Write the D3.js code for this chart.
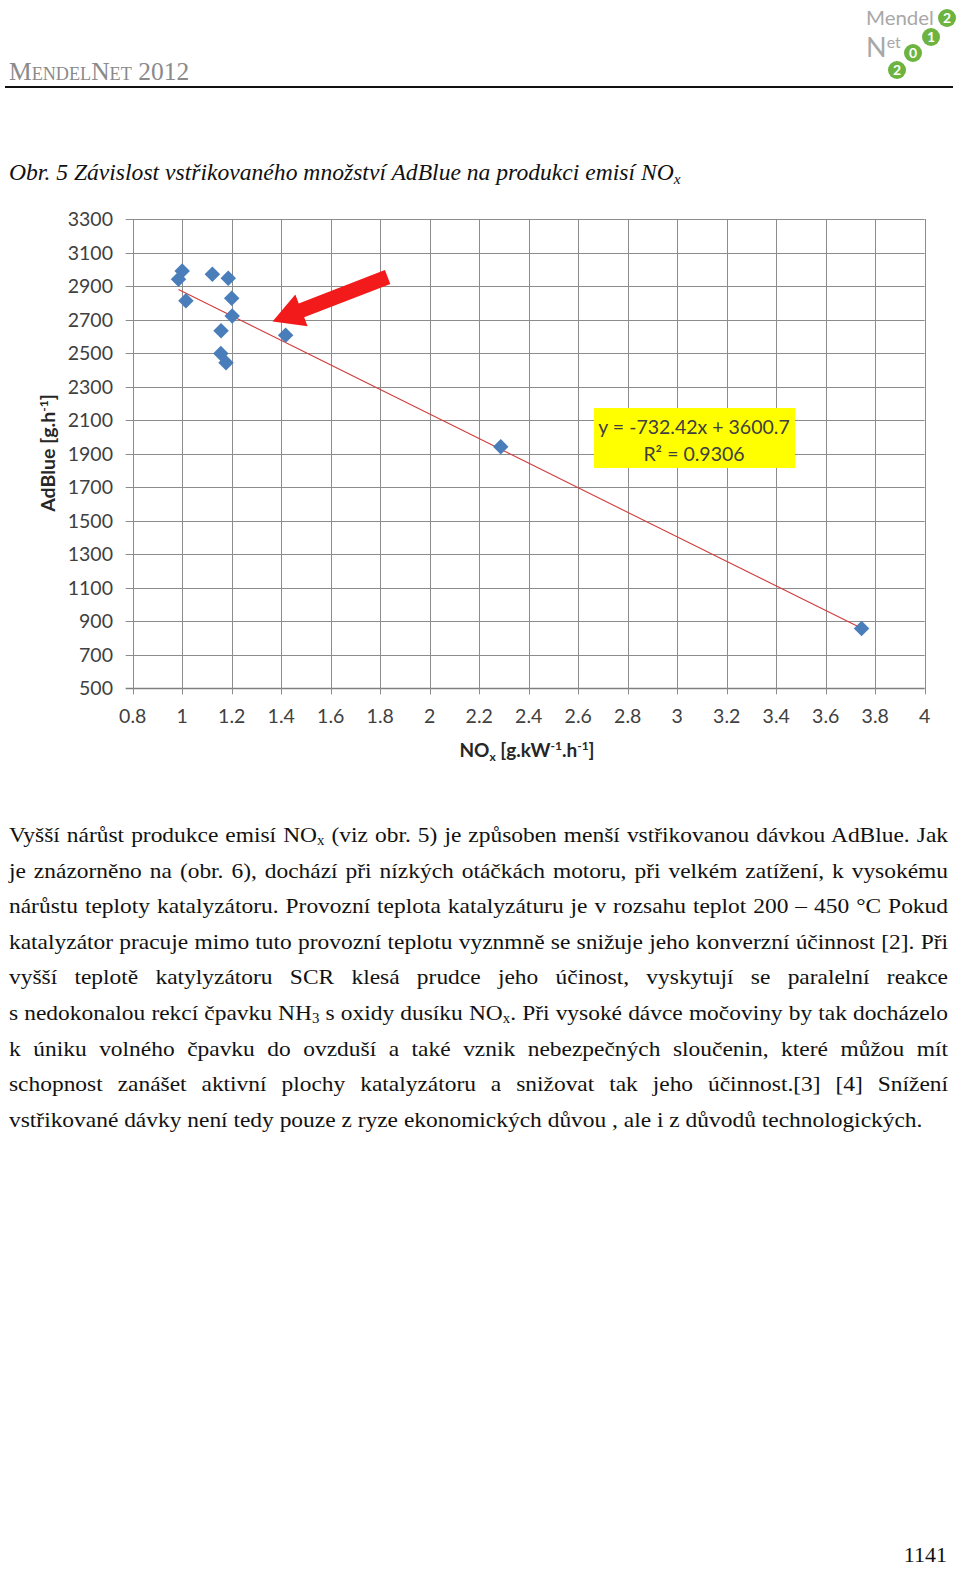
<!DOCTYPE html>
<html>
<head>
<meta charset="utf-8">
<script src="https://cdn.jsdelivr.net/npm/d3@7"></script>
<style>
  html, body { margin: 0; padding: 0; background: #fff; }
  svg { display: block; }
</style>
</head>
<body>
<div id="page"></div>
<script>
//Datos del gráfico
const noxValues = [1.00, 0.985, 1.015, 1.122, 1.186, 1.200, 1.202, 1.157, 1.156, 1.177, 1.418, 2.287, 3.745];
const adblueValues = [2990, 2940, 2812, 2970, 2946, 2827, 2721, 2633, 2498, 2442, 2607, 1941, 857];
const xTickValues = [0.8, 1, 1.2, 1.4, 1.6, 1.8, 2, 2.2, 2.4, 2.6, 2.8, 3, 3.2, 3.4, 3.6, 3.8, 4];
const xTickLabels = ['0.8', '1', '1.2', '1.4', '1.6', '1.8', '2', '2.2', '2.4', '2.6', '2.8', '3', '3.2', '3.4', '3.6', '3.8', '4'];
const yTickValues = [500, 700, 900, 1100, 1300, 1500, 1700, 1900, 2100, 2300, 2500, 2700, 2900, 3100, 3300];
const trendSlope = -732.42, trendIntercept = 3600.7;
const trendLabels = ['y = -732.42x + 3600.7', 'R² = 0.9306'];
//Flecha (en unidades de datos)
const arrowTip = [1.365, 2688], arrowTail = [1.83, 2954];

//Textos
const captionText = 'Obr. 5 Závislost vstřikovaného množství AdBlue na produkci emisí NO';
const bodyLines = [
  [['Vyšší nárůst produkce emisí NO'], ['x', 'sub'], [' (viz obr. 5) je způsoben menší vstřikovanou dávkou AdBlue. Jak']],
  [['je znázorněno na (obr. 6), dochází při nízkých otáčkách motoru, při velkém zatížení, k vysokému']],
  [['nárůstu teploty katalyzátoru. Provozní teplota katalyzáturu je v rozsahu teplot 200 – 450 °C Pokud']],
  [['katalyzátor pracuje mimo tuto provozní teplotu vyznmně se snižuje jeho konverzní účinnost [2]. Při']],
  [['vyšší teplotě katylyzátoru SCR klesá prudce jeho účinost, vyskytují se paralelní reakce']],
  [['s nedokonalou rekcí čpavku NH'], ['3', 'sub'], [' s oxidy dusíku NO'], ['x', 'sub'], ['. Při vysoké dávce močoviny by tak docházelo']],
  [['k úniku volného čpavku do ovzduší a také vznik nebezpečných sloučenin, které můžou mít']],
  [['schopnost zanášet aktivní plochy katalyzátoru a snižovat tak jeho účinnost.[3] [4] Snížení']],
  [['vstřikované dávky není tedy pouze z ryze ekonomických důvou , ale i z důvodů technologických.']]
];

const W = 960, H = 1569;
const svg = d3.select('#page').append('svg').attr('width', W).attr('height', H);
const SERIF = '"Liberation Serif", "Times New Roman", serif';
const SANS = 'Lato, "Open Sans", sans-serif';

//Ajusta el ancho de un texto escalándolo en horizontal
function fitWidth(sel, x0, width) {
  let w = sel.node().getComputedTextLength();
  sel.attr('transform', 'translate(' + x0 + ',0) scale(' + (width / w) + ',1) translate(' + (-x0) + ',0)');
  return width / w;
}

//Cabecera
let head = svg.append('text')
  .attr('x', 9).attr('y', 80)
  .attr('font-family', SERIF).attr('font-size', 25)
  .attr('fill', '#8a8a8a')
  .style('font-variant', 'small-caps')
  .text('MendelNet 2012');
fitWidth(head, 9, 181);

svg.append('line')
  .attr('x1', 5).attr('x2', 953).attr('y1', 87).attr('y2', 87)
  .attr('stroke', '#111').attr('stroke-width', 2);

//Logo
let logo = svg.append('g');
let mendel = logo.append('text').attr('x', 866).attr('y', 25)
  .attr('font-family', SANS).attr('font-size', 20).attr('fill', '#a8a8a8').text('Mendel');
fitWidth(mendel, 866, 68);
let net = logo.append('text').attr('x', 866).attr('y', 57)
  .attr('font-family', SANS).attr('font-size', 27).attr('fill', '#a8a8a8');
net.append('tspan').text('N');
net.append('tspan').attr('font-size', 16).attr('dy', -9).text('et');
[[947, 18, '2'], [931, 37, '1'], [913, 53, '0'], [897, 70, '2']].forEach(function(c) {
  logo.append('circle').attr('cx', c[0]).attr('cy', c[1]).attr('r', 9).attr('fill', '#6cb33f');
  logo.append('text').attr('x', c[0]).attr('y', c[1] + 5).attr('text-anchor', 'middle')
    .attr('font-family', SANS).attr('font-weight', 700).attr('font-size', 14).attr('fill', '#fff').text(c[2]);
});

//Pie de figura
let cap = svg.append('text')
  .attr('x', 9).attr('y', 180)
  .attr('font-family', SERIF).attr('font-style', 'italic').attr('font-size', 23)
  .attr('fill', '#111');
cap.append('tspan').text(captionText);
cap.append('tspan').attr('font-size', 15).attr('dy', 4).text('x');
fitWidth(cap, 9, 672);

//Gráfico
let x = d3.scaleLinear().domain([0.8, 4]).range([132.7, 924.7]);
let y = d3.scaleLinear().domain([500, 3300]).range([688.3, 219]);

let chart = svg.append('g');

chart.append('g')
  .selectAll('line')
  .data(yTickValues)
  .enter()
  .append('line')
  .attr('x1', x(0.8) - 7).attr('x2', x(4))
  .attr('y1', function(d) { return Math.round(y(d)) + 0.5; })
  .attr('y2', function(d) { return Math.round(y(d)) + 0.5; })
  .attr('stroke', function(d) { return d == 500 ? '#7f7f7f' : '#8c8c8c'; })
  .attr('stroke-width', function(d) { return d == 500 ? 1.4 : 1; });

chart.append('g')
  .selectAll('line')
  .data(xTickValues)
  .enter()
  .append('line')
  .attr('x1', function(d) { return Math.round(x(d)) + 0.5; })
  .attr('x2', function(d) { return Math.round(x(d)) + 0.5; })
  .attr('y1', y(3300)).attr('y2', y(500) + 6)
  .attr('stroke', '#8c8c8c').attr('stroke-width', 1);

//Etiquetas de ejes
chart.append('g')
  .selectAll('text')
  .data(yTickValues)
  .enter()
  .append('text')
  .attr('x', 113).attr('y', function(d) { return y(d) + 7; })
  .attr('text-anchor', 'end')
  .attr('font-family', SANS).attr('font-size', 19.5).attr('fill', '#404040')
  .text(function(d) { return d; });

chart.append('g')
  .selectAll('text')
  .data(xTickValues)
  .enter()
  .append('text')
  .attr('x', function(d) { return x(d); }).attr('y', 723)
  .attr('text-anchor', 'middle')
  .attr('font-family', SANS).attr('font-size', 19.5).attr('fill', '#404040')
  .text(function(d, i) { return xTickLabels[i]; });

let yTitle = chart.append('text')
  .attr('transform', 'translate(55,453) rotate(-90)')
  .attr('text-anchor', 'middle')
  .attr('font-family', SANS).attr('font-weight', 700).attr('font-size', 19.5).attr('fill', '#262626');
yTitle.append('tspan').text('AdBlue [g.h');
yTitle.append('tspan').attr('font-size', 12).attr('dy', -7).text('-1');
yTitle.append('tspan').attr('dy', 7).text(']');

let xTitle = chart.append('text')
  .attr('x', 527).attr('y', 757)
  .attr('text-anchor', 'middle')
  .attr('font-family', SANS).attr('font-weight', 700).attr('font-size', 19).attr('fill', '#262626');
xTitle.append('tspan').text('NO');
xTitle.append('tspan').attr('font-size', 12).attr('dy', 4).text('x');
xTitle.append('tspan').attr('dy', -4).text(' [g.kW');
xTitle.append('tspan').attr('font-size', 12).attr('dy', -7).text('-1');
xTitle.append('tspan').attr('dy', 7).text('.h');
xTitle.append('tspan').attr('font-size', 12).attr('dy', -7).text('-1');
xTitle.append('tspan').attr('dy', 7).text(']');

//Línea de tendencia
let xMin = d3.min(noxValues), xMax = d3.max(noxValues);
chart.append('line')
  .attr('x1', x(xMin)).attr('y1', y(trendSlope * xMin + trendIntercept))
  .attr('x2', x(xMax)).attr('y2', y(trendSlope * xMax + trendIntercept))
  .attr('stroke', '#d23c3c').attr('stroke-width', 1.1);

//Puntos
let points = noxValues.map(function(v, i) { return {x: v, y: adblueValues[i]}; });
chart.append('g')
  .selectAll('path')
  .data(points)
  .enter()
  .append('path')
  .attr('d', d3.symbol().type(d3.symbolSquare).size(120))
  .attr('transform', function(d) { return 'translate(' + x(d.x) + ',' + y(d.y) + ') rotate(45)'; })
  .attr('fill', '#4a7ebb');

//Flecha
(function() {
  let tx = x(arrowTip[0]), ty = y(arrowTip[1]);
  let sx = x(arrowTail[0]), sy = y(arrowTail[1]);
  let dx = sx - tx, dy = sy - ty, len = Math.sqrt(dx * dx + dy * dy);
  let ux = dx / len, uy = dy / len, px = -uy, py = ux;
  let headLen = 31, headW = 17, shaftW = 7.5;
  let bx = tx + ux * headLen, by = ty + uy * headLen;
  let pts = [
    [tx, ty],
    [bx + px * headW, by + py * headW],
    [bx + px * shaftW, by + py * shaftW],
    [sx + px * shaftW, sy + py * shaftW],
    [sx - px * shaftW, sy - py * shaftW],
    [bx - px * shaftW, by - py * shaftW],
    [bx - px * headW, by - py * headW]
  ];
  chart.append('path')
    .attr('d', d3.line()(pts) + 'Z')
    .attr('fill', '#f21a1a');
})();

//Etiqueta de la ecuación
let box = chart.append('g');
box.append('rect')
  .attr('x', 594).attr('y', 408).attr('width', 201).attr('height', 60)
  .attr('fill', '#ffff00');
box.selectAll('text')
  .data(trendLabels)
  .enter()
  .append('text')
  .attr('x', 694).attr('y', function(d, i) { return 434 + i * 27; })
  .attr('text-anchor', 'middle')
  .attr('font-family', SANS).attr('font-size', 19.5).attr('fill', '#404040')
  .text(function(d) { return d; });

//Texto del cuerpo
let body = svg.append('g');
let lineEls = bodyLines.map(function(parts, i) {
  let t = body.append('text')
    .attr('x', 9).attr('y', 842 + i * 35.6)
    .attr('font-family', SERIF).attr('font-size', 22).attr('fill', '#111')
    .style('white-space', 'pre');
  let shift = 0;
  parts.forEach(function(p) {
    if (p[1] == 'sub') {
      t.append('tspan').attr('font-size', 14).attr('dy', 3).text(p[0]);
      shift = -3;
    } else {
      t.append('tspan').attr('dy', shift).text(p[0]);
      shift = 0;
    }
  });
  return t;
});
let sc = fitWidth(lineEls[lineEls.length - 1], 9, 914);
lineEls.forEach(function(t, i) {
  t.attr('transform', 'translate(9,0) scale(' + sc + ',1) translate(-9,0)');
  if (i < lineEls.length - 1) {
    let w = t.node().getComputedTextLength();
    let gaps = bodyLines[i].map(function(p) { return p[0]; }).join('').split(' ').length - 1;
    let target = 939 / sc;
    t.attr('word-spacing', (target - w) / gaps);
  }
});

//Número de página
svg.append('text')
  .attr('x', 947).attr('y', 1562)
  .attr('text-anchor', 'end')
  .attr('font-family', SERIF).attr('font-size', 22).attr('fill', '#111')
  .text('1141');
</script>
</body>
</html>
